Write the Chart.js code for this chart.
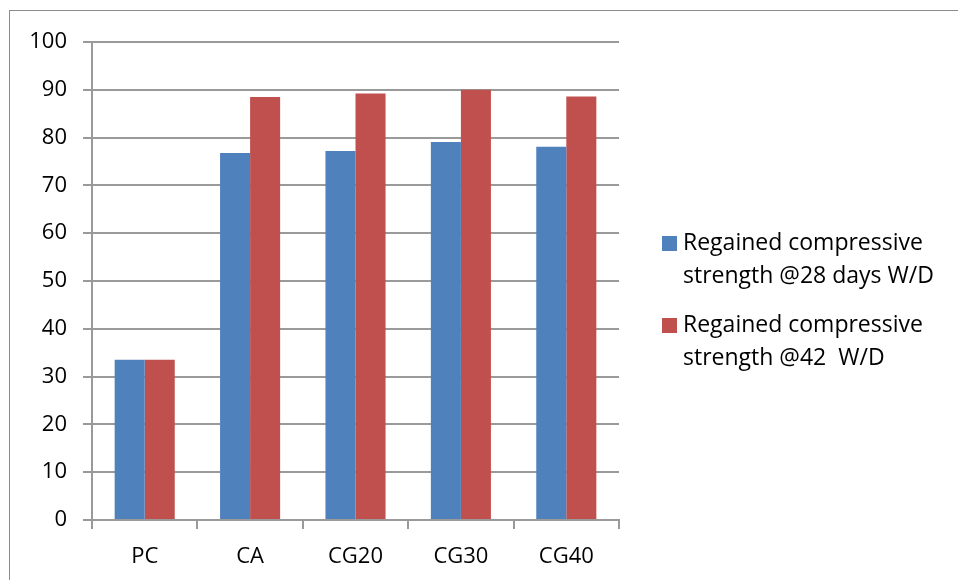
<!DOCTYPE html>
<html>
<head>
<meta charset="utf-8">
<script src="https://cdn.jsdelivr.net/npm/chart.js@4/dist/chart.umd.min.js"></script>
<style>
  html, body { margin: 0; padding: 0; background: #fff; }
  #wrap { width: 958px; height: 580px; position: relative; }
</style>
</head>
<body>
<div id="wrap"><canvas id="c" width="958" height="580"></canvas></div>
<script>
// Mixes and regained compressive strength (%) after wetting/drying cycles
const categories = ['PC', 'CA', 'CG20', 'CG30', 'CG40'];
const strength28 = [33.5, 76.8, 77.2, 79.1, 78.1];
const strength42 = [33.5, 88.5, 89.2, 90.0, 88.6];
const seriesLines = [
  ['Regained compressive', 'strength @28 days W/D'],
  ['Regained compressive', 'strength @42  W/D']
];
const yTicks = [0, 10, 20, 30, 40, 50, 60, 70, 80, 90, 100];

const FONT = '"Open Sans", sans-serif';
const GRID = '#9a9a9a';

// Outer frame around the chart
const framePlugin = {
  id: 'frame',
  beforeDraw(chart) {
    const ctx = chart.ctx;
    ctx.save();
    ctx.fillStyle = '#fff';
    ctx.fillRect(0, 0, chart.width, chart.height);
    ctx.strokeStyle = '#8c8c8c';
    ctx.lineWidth = 1;
    ctx.strokeRect(9.5, 10.5, chart.width + 20, chart.height + 20);
    ctx.restore();
  }
};

// Two-line legend on the right side
const sideLegend = {
  id: 'sideLegend',
  afterDraw(chart) {
    const ctx = chart.ctx;
    const area = chart.chartArea;
    const x0 = area.right + 43;
    let y = 236;
    ctx.save();
    ctx.font = '23px ' + FONT;
    ctx.textBaseline = 'middle';
    ctx.textAlign = 'left';
    chart.data.datasets.forEach((ds, i) => {
      ctx.fillStyle = ds.backgroundColor;
      ctx.fillRect(x0, y, 15, 15);
      ctx.fillStyle = '#000';
      seriesLines[i].forEach((line, j) => {
        ctx.fillText(line, x0 + 21, y + 7 + j * 33);
      });
      y += 82;
    });
    ctx.restore();
  }
};

new Chart(document.getElementById('c'), {
  type: 'bar',
  data: {
    labels: categories,
    datasets: [
      { label: seriesLines[0].join(' '), data: strength28, backgroundColor: '#4F81BD' },
      { label: seriesLines[1].join(' '), data: strength42, backgroundColor: '#C0504D' }
    ]
  },
  options: {
    responsive: false,
    animation: false,
    devicePixelRatio: 1,
    layout: { padding: { top: 42, right: 339, bottom: 0, left: 0 } },
    datasets: { bar: { categoryPercentage: 0.57, barPercentage: 1.0 } },
    plugins: {
      legend: { display: false },
      tooltip: { enabled: false }
    },
    scales: {
      x: {
        grid: { display: true, drawOnChartArea: false, drawTicks: true, tickLength: 9, color: GRID, lineWidth: 2, offset: true },
        border: { display: true, color: GRID, width: 2 },
        ticks: { color: '#000', font: { family: FONT, size: 22 }, padding: 15 },
        afterFit(scale) { scale.height = 60; }
      },
      y: {
        min: 0,
        max: 100,
        afterBuildTicks(scale) { scale.ticks = yTicks.map(v => ({ value: v })); },
        grid: { color: GRID, lineWidth: 2, drawTicks: true, tickLength: 9 },
        border: { display: true, color: GRID, width: 2 },
        ticks: { color: '#000', font: { family: FONT, size: 22 }, padding: 16 },
        afterFit(scale) { scale.width = 92; }
      }
    }
  },
  plugins: [framePlugin, sideLegend]
});
</script>
</body>
</html>
